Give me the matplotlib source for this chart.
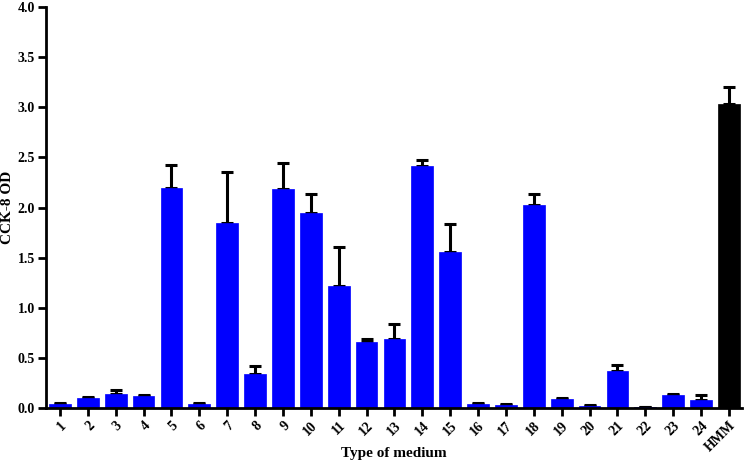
import matplotlib
matplotlib.use("Agg")
import matplotlib.pyplot as plt
import numpy as np

categories = [str(i) for i in range(1, 25)] + ["HMM"]
values = [0.04, 0.10, 0.14, 0.12, 2.19, 0.04, 1.85, 0.34, 2.18, 1.95, 1.22, 0.66,
          0.69, 2.41, 1.56, 0.04, 0.03, 2.02, 0.09, 0.02, 0.37, 0.005, 0.13, 0.08, 3.03]
errors = [0.01, 0.01, 0.04, 0.01, 0.23, 0.01, 0.50, 0.08, 0.26, 0.18, 0.39, 0.03,
          0.15, 0.06, 0.28, 0.01, 0.01, 0.11, 0.01, 0.005, 0.06, 0.0, 0.01, 0.05, 0.17]
colors = ["#0000FF"] * 24 + ["#000000"]

plt.rcParams['font.family'] = ['Liberation Serif', 'DejaVu Serif']

fig = plt.figure(figsize=(7.46, 4.61), dpi=100)
ax = fig.add_axes([46/746, 53/461, (742-46)/746, 401/461])
x = np.arange(1, len(categories) + 1)
ax.bar(x, values, width=0.78, color=colors, edgecolor=colors, linewidth=0.5, zorder=2)
ax.errorbar(x, values, yerr=[np.zeros(len(errors)), errors], fmt='none', ecolor='black',
            elinewidth=2.2, capsize=4, capthick=2.2, zorder=1)
ax.set_xlim(0.5, 25.47)
ax.set_ylim(0, 4.0)
ax.set_yticks(np.arange(0, 4.01, 0.5))
ax.set_yticklabels([f"{v:.1f}" for v in np.arange(0, 4.01, 0.5)], fontweight='bold', fontsize=10)
ax.set_xticks(x)
ax.set_xticklabels(categories, rotation=45, ha='right', rotation_mode='anchor',
                   fontweight='bold', fontsize=10)
for s in ['top', 'right']:
    ax.spines[s].set_visible(False)
for s in ['left', 'bottom']:
    ax.spines[s].set_linewidth(2)
ax.tick_params(direction='out', width=2, length=6, pad=2)
ax.set_ylabel("CCK-8 OD", fontweight='bold', fontsize=11)
ax.yaxis.set_label_coords(-38/696, 0.5)
ax.set_xlabel("Type of medium", fontweight='bold', fontsize=11)
ax.xaxis.set_label_coords(0.5, -45/401)
ax.xaxis.label.set_va('center')
ax.yaxis.label.set_va('center')
fig.savefig("out.png", dpi=100)
